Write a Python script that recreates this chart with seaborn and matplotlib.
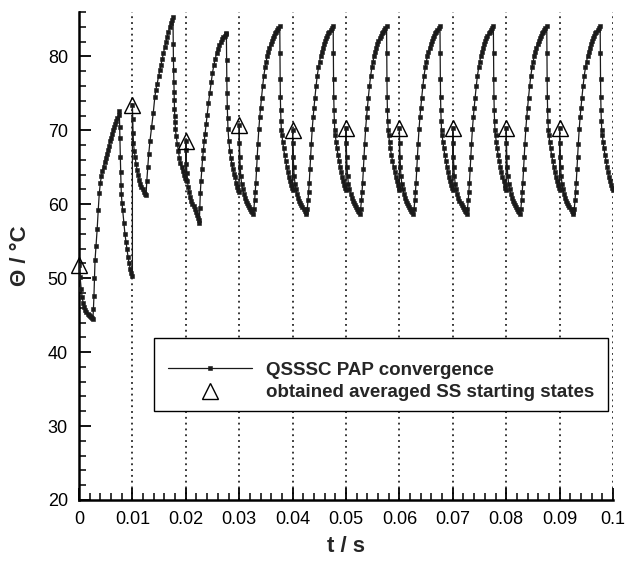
import numpy as np
import pandas as pd
import matplotlib
matplotlib.use("Agg")
import matplotlib.pyplot as plt
from matplotlib.patches import Rectangle
from matplotlib.ticker import MultipleLocator, FixedLocator, FixedFormatter
import seaborn as sns

# ---------------- data ----------------
# averaged steady-state starting states (triangles)
TRI_T = [0.00, 0.01, 0.02, 0.03, 0.04, 0.05, 0.06, 0.07, 0.08, 0.09]
TRI_V = [51.8, 73.4, 68.6, 70.7, 70.0, 70.3, 70.3, 70.3, 70.3, 70.3]

# cycle 0 (0 .. 0.01 s), time inside cycle in ms
C0_TAU = [0.2, 0.4, 0.6, 0.8, 1.0, 1.2, 1.4, 1.6, 1.8, 2.0, 2.2, 2.4, 2.6,
          2.7, 2.8, 2.9, 3.0, 3.2, 3.4, 3.6, 3.8, 4.0, 4.2, 4.4, 4.6, 4.8,
          5.0, 5.2, 5.4, 5.6, 5.8, 6.0, 6.2, 6.4, 6.6, 6.8, 7.0, 7.2, 7.4,
          7.55, 7.62, 7.68, 7.74, 7.8, 7.87, 7.93, 8.05, 8.18, 8.4, 8.6,
          8.8, 9.0, 9.2, 9.4, 9.6, 9.8, 10.0]
C0_V = [50.2, 48.6, 47.4, 46.6, 46.1, 45.7, 45.4, 45.2, 45.0, 44.85, 44.7,
        44.6, 44.5, 45.8, 47.6, 50.0, 52.4, 54.4, 56.6, 59.2, 61.5, 62.9,
        63.8, 64.5, 65.1, 65.7, 66.3, 66.8, 67.3, 67.9, 68.5, 69.0, 69.5,
        70.0, 70.4, 70.8, 71.2, 71.6, 72.1, 72.6, 70.5, 68.9, 66.4, 64.4,
        62.6, 61.4, 60.2, 59.2, 57.5, 56.0, 54.9, 53.9, 52.8, 52.0, 51.2,
        50.7, 50.3]

# cycle 1 (0.01 .. 0.02 s)
C1_TAU = [0.05, 0.12, 0.2, 0.35, 0.5, 0.7, 0.9, 1.1, 1.3, 1.5, 1.7, 1.9,
          2.1, 2.3, 2.55, 2.7, 2.87, 3.06, 3.3, 3.6, 3.9, 4.2, 4.4, 4.64,
          4.9, 5.13, 5.35, 5.57, 5.8, 6.07, 6.3, 6.5, 6.75, 7.0, 7.2, 7.4,
          7.6, 7.64, 7.68, 7.72, 7.76, 7.8, 7.84, 7.88, 7.93, 7.98, 8.05,
          8.2, 8.4, 8.6, 8.8, 9.0, 9.2, 9.4, 9.6, 9.8, 10.0]
C1_V = [71.5, 69.6, 68.3, 67.2, 66.4, 65.4, 64.6, 63.9, 63.3, 62.8, 62.4,
        62.0, 61.7, 61.4, 61.2, 63.2, 65.0, 66.8, 68.6, 70.4, 72.3, 74.5,
        75.5, 76.3, 77.3, 78.1, 78.9, 79.7, 80.5, 81.3, 82.0, 82.6, 83.3,
        84.0, 84.5, 84.9, 85.3, 81.7, 79.7, 78.1, 76.5, 75.2, 74.1, 72.9,
        72.0, 71.1, 70.2, 69.2, 68.2, 67.2, 66.3, 65.6, 65.0, 64.5, 64.0,
        63.6, 63.3]

# cycle 2 (0.02 .. 0.03 s)
C2_TAU = [0.05, 0.12, 0.2, 0.3, 0.45, 0.65, 0.85, 1.05, 1.25, 1.45, 1.65,
          1.85, 2.05, 2.25, 2.4, 2.53, 2.62, 2.72, 2.85, 3.0, 3.15, 3.3,
          3.45, 3.6, 3.8, 4.0, 4.25, 4.5, 4.75, 5.0, 5.25, 5.5, 5.75, 6.0,
          6.25, 6.5, 6.75, 7.0, 7.25, 7.45, 7.6, 7.64, 7.68, 7.72, 7.77,
          7.83, 7.9, 8.05, 8.25, 8.45, 8.65, 8.85, 9.05, 9.22, 9.45, 9.66,
          9.85, 10.0]
C2_V = [67.3, 65.5, 64.2, 63.2, 62.3, 61.6, 61.0, 60.5, 60.1, 59.7, 59.3,
        58.9, 58.5, 58.2, 57.9, 57.5, 59.5, 61.5, 63.2, 64.8, 66.2, 67.4,
        68.5, 69.5, 70.9, 72.1, 73.7, 75.1, 76.6, 77.8, 78.8, 79.6, 80.4,
        81.0, 81.5, 81.9, 82.3, 82.6, 82.8, 83.0, 83.1, 79.5, 77.0, 75.0,
        73.2, 71.6, 70.2, 68.6, 67.2, 66.2, 65.4, 64.7, 64.1, 63.7, 62.9,
        62.3, 61.9, 61.7]

# periodic (converged) cycle, 0.03 .. 0.1 s
SS_TAU = [0.05, 0.12, 0.2, 0.3, 0.45, 0.65, 0.85, 1.05, 1.25, 1.45, 1.65,
          1.85, 2.05, 2.25, 2.45, 2.6, 2.75, 2.9, 3.0, 3.12, 3.25, 3.37,
          3.5, 3.68, 3.85, 4.0, 4.18, 4.4, 4.62, 4.85, 5.05, 5.24, 5.45,
          5.65, 5.87, 6.08, 6.28, 6.49, 6.7, 6.9, 7.12, 7.35, 7.6, 7.63,
          7.67, 7.71, 7.76, 7.82, 7.9, 8.0, 8.15, 8.3, 8.5, 8.7, 8.9, 9.1,
          9.3, 9.5, 9.7, 9.85, 10.0]
SS_V = [68.3, 66.4, 65.0, 63.8, 62.8, 62.0, 61.4, 60.9, 60.5, 60.2, 59.9,
        59.6, 59.3, 59.1, 58.9, 58.7, 59.4, 60.6, 61.6, 62.9, 64.7, 66.4,
        68.1, 70.2, 71.8, 73.0, 74.4, 76.0, 77.4, 78.5, 79.3, 80.0, 80.6,
        81.2, 81.7, 82.1, 82.5, 82.8, 83.1, 83.35, 83.6, 83.85, 84.05,
        80.4, 77.0, 74.5, 72.7, 71.3, 70.1, 69.3, 68.4, 67.6, 66.7, 65.9,
        65.1, 64.4, 63.7, 63.1, 62.6, 62.2, 61.9]

CYCLES = [(C0_TAU, C0_V), (C1_TAU, C1_V), (C2_TAU, C2_V)] + [(SS_TAU, SS_V)] * 7

XTICKS = [0.0, 0.01, 0.02, 0.03, 0.04, 0.05, 0.06, 0.07, 0.08, 0.09, 0.1]
XTICK_LABELS = ["0", "0.01", "0.02", "0.03", "0.04", "0.05", "0.06",
                "0.07", "0.08", "0.09", "0.1"]
YTICKS = [20, 30, 40, 50, 60, 70, 80]

LABEL_CURVE = "QSSSC PAP convergence"
LABEL_TRI = "obtained averaged SS starting states"

# ---------------- build tables ----------------
t_all, v_all = [], []
for t0, v0, (tau, vals) in zip(TRI_T, TRI_V, CYCLES):
    t_all.append(t0)
    v_all.append(v0)
    t_all.extend(t0 + np.asarray(tau) / 1000.0)
    v_all.extend(vals)
curve = pd.DataFrame({"t": t_all, "theta": v_all})
tri = pd.DataFrame({"t": TRI_T, "theta": TRI_V})

# ---------------- style ----------------
sns.set_style("ticks")
plt.rcParams["font.family"] = ["Liberation Sans", "DejaVu Sans"]
plt.rcParams["mathtext.default"] = "regular"

fig = plt.figure(figsize=(6.26, 5.64), dpi=100)
ax = fig.add_axes([0.1262, 0.1135, 0.8530, 0.8652])

ink = "#1a1a1a"
sns.lineplot(data=curve, x="t", y="theta", ax=ax, sort=False, estimator=None,
             color=ink, lw=0.9, marker="s", markersize=2.8,
             markerfacecolor=ink, markeredgecolor=ink, markeredgewidth=0.4,
             label=LABEL_CURVE, zorder=3)
sns.lineplot(data=tri, x="t", y="theta", ax=ax, sort=False, estimator=None,
             linestyle="none", marker="^", markersize=11,
             markerfacecolor="none", markeredgecolor="black",
             markeredgewidth=1.0, color="black", label=LABEL_TRI, zorder=4,
             clip_on=False)

ax.set_xlim(0, 0.1)
ax.set_ylim(20, 86)

ax.xaxis.set_major_locator(FixedLocator(XTICKS))
ax.xaxis.set_major_formatter(FixedFormatter(XTICK_LABELS))
ax.xaxis.set_minor_locator(MultipleLocator(0.002))
ax.yaxis.set_major_locator(FixedLocator(YTICKS))
ax.yaxis.set_minor_locator(MultipleLocator(2))

ax.tick_params(axis="both", which="both", bottom=True, left=True,
               top=False, right=False, direction="in", colors="black")
ax.tick_params(axis="both", which="major", length=8.5, width=1.3,
               labelsize=13)
ax.tick_params(axis="both", which="minor", length=5, width=1.1)
ax.tick_params(axis="x", which="major", pad=8)
ax.tick_params(axis="y", which="major", pad=8)

for side in ("top", "right"):
    ax.spines[side].set_visible(False)
for side in ("left", "bottom"):
    ax.spines[side].set_linewidth(1.8)
    ax.spines[side].set_color("black")

ax.grid(False)
ax.xaxis.grid(True, which="major", linestyle=(0, (1.2, 2.6)),
              color="black", lw=1.1)
ax.set_axisbelow(True)

ax.set_xlabel("t / s", fontsize=16, fontweight="bold", labelpad=6)
ax.set_ylabel("Θ / °C", fontsize=16, fontweight="bold", labelpad=12)

# legend box (frame drawn separately so the entries can sit as in the reference)
box = Rectangle((0.1404, 0.182), 0.8502, 0.150, transform=ax.transAxes,
                facecolor="white", edgecolor="black", lw=1.0, zorder=5)
ax.add_patch(box)
leg = ax.legend(loc="upper left", bbox_to_anchor=(0.1667, 0.2840),
                numpoints=1, frameon=False, handlelength=4.5,
                handletextpad=0.75, borderpad=0.0, labelspacing=0.30,
                borderaxespad=0, prop={"size": 13.5, "weight": "bold"})
leg.set_zorder(6)

fig.savefig("out.png", dpi=100)
